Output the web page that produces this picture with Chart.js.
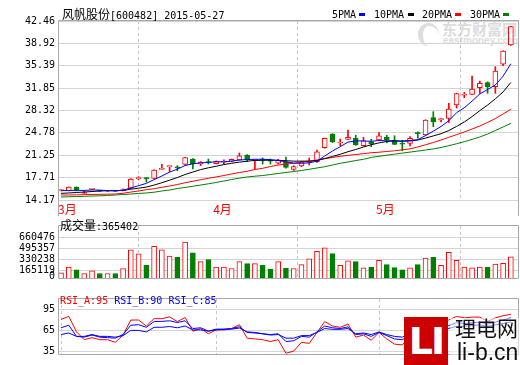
<!DOCTYPE html>
<html><head><meta charset="utf-8">
<script src="https://cdn.jsdelivr.net/npm/chart.js@4.4.1/dist/chart.umd.min.js"></script>
<style>
html,body{margin:0;padding:0;background:#fff;}
#wrap{position:relative;width:520px;height:365px;overflow:hidden;background:#fff;}
canvas{position:absolute;left:0;z-index:2;}
.t{position:absolute;white-space:nowrap;z-index:5;}
.wm{position:absolute;white-space:nowrap;z-index:1;}
.cjk{font-family:'Noto Sans CJK SC';font-size:12px;line-height:14px;color:#000;}
.mono{font-family:'DejaVu Sans Mono';font-size:10px;}
.sw{position:absolute;width:6px;height:3px;z-index:5;}
</style></head>
<body><div id="wrap">
<div class="wm" style="left:418px;top:23px;width:16px;height:20px;border-radius:50%;border-left:5px solid #dedede;border-top:3px solid #dedede;"></div>
<div class="wm" style="left:442px;top:20px;font-family:'Noto Sans CJK SC';font-weight:bold;font-size:15px;line-height:18px;color:#dcdcdc;">东方财富网</div>
<div class="wm" style="left:443px;top:36px;font-family:'Liberation Sans';font-weight:bold;font-size:10px;line-height:10px;color:#dcdcdc;">eastmoney.com</div>

<canvas id="cMain" width="520" height="216" style="top:0"></canvas>
<canvas id="cVol" width="520" height="73" style="top:216px"></canvas>
<canvas id="cRsi" width="520" height="76" style="top:289px"></canvas>

<div class="t cjk" style="left:62px;top:7px;">风帆股份<span class="mono">[600482] 2015-05-27</span></div>
<div class="t mono" style="left:332px;top:9px;line-height:12px;">5PMA</div><div class="sw" style="left:359px;top:13px;background:#0000ff"></div>
<div class="t mono" style="left:374px;top:9px;line-height:12px;">10PMA</div><div class="sw" style="left:408px;top:13px;background:#000"></div>
<div class="t mono" style="left:422px;top:9px;line-height:12px;">20PMA</div><div class="sw" style="left:455px;top:13px;background:#ff0000"></div>
<div class="t mono" style="left:470px;top:9px;line-height:12px;">30PMA</div><div class="sw" style="left:503px;top:13px;background:#008000"></div>

<div class="t cjk" style="left:60px;top:218px;">成交量<span class="mono">:365402</span></div>
<div class="t mono" style="left:60px;top:295px;line-height:12px;"><span style="color:#ff0000">RSI_A:95</span> <span style="color:#0000ff">RSI_B:90</span> <span style="color:#0000ff">RSI_C:85</span></div>

<div class="t" style="left:450px;top:318px;width:70px;height:47px;background:rgba(255,255,255,0.55);z-index:4;"></div>
<div class="t" style="left:404px;top:317px;width:44px;height:48px;background:#cc0000;color:#fff;font-family:'DejaVu Sans';font-weight:bold;font-size:38px;line-height:48px;text-align:center;letter-spacing:-2px;">LI</div>
<div class="t" style="left:455px;top:314px;font-family:'Noto Sans CJK SC';font-size:21px;line-height:26px;color:#111;">理电网</div>
<div class="t" style="left:457px;top:339px;font-family:'Liberation Sans';font-size:23px;line-height:26px;color:#111;">li-b.cn</div>
</div>
<script>
// ---- data ----
const monthTickIndex = [0, 20, 41];
const monthTickLabels = ['3月', '4月', '5月'];
const priceTicks = [14.17, 17.71, 21.25, 24.78, 28.32, 31.85, 35.39, 38.92, 42.46];
const volumeTicks = [165119, 330238, 495357, 660476];
const rsiTicks = [35, 65, 95];

const open  = [15.66,15.64,16.22,15.20,15.85,15.65,15.55,15.65,15.65,16.02,17.55,17.62,17.60,19.00,19.45,19.32,19.81,20.65,19.86,20.22,19.90,20.15,20.25,20.49,21.28,20.46,20.55,20.40,19.98,20.22,19.00,19.54,20.15,20.22,22.44,24.60,23.18,23.76,23.92,22.75,23.38,23.65,24.08,23.65,23.05,23.13,24.75,24.44,27.21,26.88,27.08,29.18,30.72,30.87,31.92,32.71,32.08,35.62,38.67];
const high  = [15.80,16.25,16.25,15.64,16.00,15.70,15.68,15.70,15.95,17.55,17.85,17.70,18.95,19.81,19.56,19.60,20.90,20.70,20.25,20.65,20.35,20.50,20.65,21.60,21.35,20.56,20.81,20.65,20.60,20.97,19.60,20.30,20.80,22.05,23.95,24.65,23.81,25.23,24.40,24.08,23.76,24.81,24.40,24.33,23.60,24.20,24.95,26.85,28.13,27.08,29.45,31.05,31.19,33.77,32.98,32.85,35.24,37.75,41.60];
const low   = [15.60,15.60,15.60,15.15,15.80,15.50,15.50,15.52,15.60,15.95,17.35,17.00,17.55,19.00,18.64,18.80,19.75,19.07,19.60,19.86,19.86,19.86,20.20,20.45,20.22,19.07,19.86,19.86,19.86,19.20,18.85,19.43,19.70,20.10,22.35,23.23,22.75,23.70,22.80,22.70,22.60,23.60,23.20,22.90,21.95,22.70,23.92,24.40,25.75,26.50,26.42,28.71,30.34,30.80,31.03,31.03,31.03,35.39,38.60];
const close = [15.75,16.22,15.75,15.25,15.95,15.58,15.62,15.58,15.75,17.49,17.62,17.54,18.91,19.07,19.54,19.27,20.86,19.86,20.15,20.10,20.25,20.25,20.60,21.17,20.49,20.54,20.45,20.30,20.45,19.33,19.45,20.22,20.25,21.80,23.92,23.38,23.28,24.08,22.86,23.54,23.02,24.33,23.65,22.97,22.98,23.92,24.65,26.81,26.50,26.95,28.55,31.00,30.80,31.71,32.61,32.08,34.56,37.72,41.56];

const ma5  = [15.64,15.67,15.70,15.68,15.76,15.73,15.65,15.62,15.71,16.08,16.43,16.80,17.40,17.96,18.58,19.05,19.62,19.89,20.03,20.11,20.23,20.20,20.32,20.48,20.57,20.60,20.62,20.54,20.40,20.20,20.01,19.96,20.05,20.30,21.13,21.91,22.60,23.32,23.52,23.50,23.45,23.58,23.52,23.55,23.48,23.58,23.70,24.35,25.05,25.80,26.69,27.96,28.76,29.80,30.93,31.64,32.35,33.74,35.71];
const ma10 = [15.22,15.28,15.36,15.43,15.51,15.59,15.64,15.64,15.67,15.88,16.04,16.21,16.53,16.90,17.30,17.72,18.20,18.59,18.97,19.26,19.50,19.77,19.97,20.15,20.30,20.43,20.44,20.46,20.45,20.38,20.31,20.31,20.32,20.40,20.72,21.05,21.40,21.80,22.15,22.55,22.90,23.20,23.42,23.50,23.45,23.50,23.65,23.95,24.30,24.65,25.15,25.80,26.50,27.35,28.30,29.17,30.16,31.25,32.75];
const ma20 = [14.96,14.96,14.99,15.01,15.04,15.07,15.09,15.12,15.23,15.43,15.59,15.80,15.96,16.18,16.38,16.62,16.90,17.13,17.38,17.60,17.81,18.04,18.28,18.52,18.71,18.99,19.18,19.46,19.70,19.86,19.97,20.13,20.29,20.49,20.70,20.89,21.08,21.22,21.36,21.50,21.64,21.72,21.84,21.95,22.10,22.25,22.55,22.90,23.25,23.65,24.08,24.50,24.92,25.39,25.87,26.42,27.05,27.76,28.50];
const ma30 = [14.64,14.68,14.72,14.75,14.80,14.83,14.88,14.96,15.04,15.12,15.20,15.28,15.40,15.59,15.75,15.99,16.15,16.34,16.54,16.73,16.94,17.17,17.41,17.62,17.81,17.93,18.04,18.20,18.36,18.52,18.67,18.83,19.02,19.23,19.43,19.70,19.97,20.18,20.41,20.60,20.90,21.08,21.25,21.42,21.58,21.74,21.90,22.07,22.25,22.47,22.75,23.06,23.38,23.75,24.13,24.60,25.15,25.71,26.29];

const volume = [128800,213600,172800,117800,158500,117800,117800,117800,191500,470000,411700,238900,521800,470000,378700,360000,587800,426000,293900,323600,213600,213600,191500,293900,264200,264200,238900,183800,293900,194800,191500,249900,338000,448000,503000,415000,238900,304900,293900,202500,213600,312600,249900,205800,172800,202500,249900,349000,360000,238900,433700,312600,213600,202500,213600,213600,257600,268600,365402];

const rsiA = [80.7,85.1,63.0,52.0,54.9,52.0,52.0,48.3,58.6,79.9,79.9,71.4,81.8,81.8,84.3,77.7,83.5,64.1,67.8,60.4,65.9,65.9,67.8,73.3,54.2,53.1,52.0,49.4,52.0,32.8,35.8,48.3,46.8,62.3,77.7,71.4,69.6,74.1,55.6,58.6,51.2,62.3,53.1,45.7,44.6,56.7,62.0,75.0,72.0,74.0,80.0,85.0,83.0,84.0,84.0,78.0,83.0,86.0,88.0];
const rsiB = [68.9,72.5,56.7,55.6,58.6,55.6,54.9,54.2,59.3,72.5,73.3,69.6,77.7,78.0,78.8,76.3,78.8,67.8,68.9,64.1,67.0,67.0,67.8,70.3,62.3,61.5,60.4,59.3,60.4,49.4,50.5,56.7,55.6,63.0,71.4,68.9,67.8,70.3,59.3,60.4,56.7,62.3,57.8,53.1,52.0,58.6,60.0,68.0,67.0,68.0,72.0,76.0,75.0,76.0,77.0,74.0,77.0,80.0,83.0];
const rsiC = [59.3,61.5,56.7,56.7,59.3,56.7,56.7,55.6,57.8,65.2,65.2,63.0,69.6,69.6,70.7,68.9,71.4,65.9,65.9,64.1,65.9,66.7,67.0,68.5,63.0,62.3,60.4,58.6,59.3,54.2,54.2,57.8,57.8,62.3,67.8,66.7,66.7,67.8,60.4,61.5,59.3,63.0,59.3,56.7,55.6,60.4,61.0,65.0,65.0,66.0,68.0,71.0,71.0,72.0,73.0,71.0,73.0,75.0,77.0];

// ---- rendering ----
const RED = '#ff0000', GREEN = '#008000', BLUE = '#0000ff', BLACK = '#000000';
const idx = close.map((_, i) => i);
const up = close.map((c, i) => c >= open[i]);
const MONO = {family: 'DejaVu Sans Mono', size: 10};

const framePlugin = {
  id: 'frame',
  afterDraw(chart, args, opts) {
    const a = chart.chartArea, ctx = chart.ctx;
    ctx.save();
    ctx.strokeStyle = opts.color || '#a8a8a8';
    ctx.lineWidth = 1;
    const l = Math.round(a.left) - 0.5, t = Math.round(a.top) - 0.5;
    const r = Math.round(a.right) - 0.5, b = Math.round(a.bottom) + (opts.extraBottom || 0) - 0.5;
    ctx.beginPath();
    ctx.moveTo(l, b); ctx.lineTo(l, t); ctx.lineTo(r, t); ctx.lineTo(r, b);
    if (opts.bottom !== false) ctx.lineTo(l, b);
    ctx.stroke();
    ctx.restore();
  }
};

function xAxis(showLabels) {
  return {
    type: 'linear', min: -0.26, max: 59.05, offset: false,
    afterBuildTicks: s => { s.ticks = monthTickIndex.map(v => ({value: v})); },
    grid: {color: '#c4c4c4', lineWidth: 1, drawTicks: false},
    border: {display: false, dash: [3, 3]},
    ticks: {
      display: showLabels, autoSkip: false, maxRotation: 0, align: 'start', labelOffset: -3,
      color: RED, padding: 2, font: {family: 'Noto Sans CJK SC', size: 12},
      callback: (v, i) => monthTickLabels[i]
    },
    afterFit: s => { s.height = showLabels ? 16 : 0; }
  };
}
function yAxis(min, max, ticks, fmt, gridColor) {
  return {
    min, max,
    afterBuildTicks: s => { s.ticks = ticks.map(v => ({value: v})); },
    grid: {color: gridColor || '#d4d4d4', drawTicks: false},
    border: {display: false},
    ticks: {autoSkip: false, color: '#000', font: MONO, padding: 4, callback: fmt},
    afterFit: s => { s.width = 59; }
  };
}
const common = {
  responsive: false, animation: false, devicePixelRatio: 1, events: [],
  plugins: {legend: {display: false}, tooltip: {enabled: false}}
};
function lineDs(arr, color) {
  return {type: 'line', data: idx.map(i => ({x: i, y: arr[i]})), borderColor: color,
    borderWidth: 1, pointRadius: 0, fill: false, tension: 0, order: -1};
}

// main price panel
new Chart(document.getElementById('cMain'), {
  type: 'bar',
  data: {datasets: [
    lineDs(ma5, BLUE), lineDs(ma10, BLACK), lineDs(ma20, RED), lineDs(ma30, GREEN),
    {type: 'bar', data: idx.map(i => ({x: i, y: [open[i], close[i]]})),
      backgroundColor: up.map(u => u ? '#ffffff' : GREEN), borderColor: up.map(u => u ? RED : GREEN),
      borderWidth: 1, borderSkipped: false, barThickness: 5, grouped: false, minBarLength: 1, order: 0},
    {type: 'bar', data: idx.map(i => ({x: i, y: [low[i], high[i]]})),
      backgroundColor: up.map(u => u ? RED : GREEN), borderWidth: 0,
      barThickness: 1, grouped: false, order: 1}
  ]},
  options: {...common,
    layout: {padding: {top: 21, right: 1, left: 0, bottom: 0}},
    scales: {
      x: xAxis(true),
      y: yAxis(14.17, 42.46, priceTicks, v => Number(v).toFixed(2))
    },
    plugins: {...common.plugins, frame: {extraBottom: 17, bottom: false}}
  },
  plugins: [framePlugin]
});

// volume panel
const volFloor = 35000;
new Chart(document.getElementById('cVol'), {
  type: 'bar',
  data: {datasets: [
    {data: idx.map(i => ({x: i, y: volume[i]})),
      backgroundColor: up.map(u => u ? '#ffffff' : GREEN), borderColor: up.map(u => u ? RED : GREEN),
      borderWidth: 1, borderSkipped: false, barThickness: 5, grouped: false}
  ]},
  options: {...common,
    layout: {padding: {top: 1, right: 1, left: 0, bottom: 0}},
    scales: {
      x: xAxis(false),
      y: (() => {
        const ax = yAxis(volFloor, 827600, volumeTicks, v => v <= volFloor + 40000 ? '0' : String(v));
        ax.afterBuildTicks = s => { s.ticks = [{value: volFloor + 33000}].concat(volumeTicks.map(v => ({value: v}))); };
        ax.grid.color = ctx => ctx.index === 0 ? 'rgba(0,0,0,0)' : '#d4d4d4';
        return ax;
      })()
    },
    plugins: {...common.plugins, frame: {extraBottom: 0}}
  },
  plugins: [framePlugin]
});

// RSI panel
new Chart(document.getElementById('cRsi'), {
  type: 'line',
  data: {datasets: [lineDs(rsiC, BLUE), lineDs(rsiB, BLUE), lineDs(rsiA, RED)]},
  options: {...common,
    layout: {padding: {top: 3, right: 1, left: 0, bottom: 1}},
    scales: {
      x: xAxis(false),
      y: yAxis(30.3, 109.7, rsiTicks, v => String(v))
    },
    plugins: {...common.plugins, frame: {extraBottom: 0}}
  },
  plugins: [framePlugin]
});
</script>
</body></html>
